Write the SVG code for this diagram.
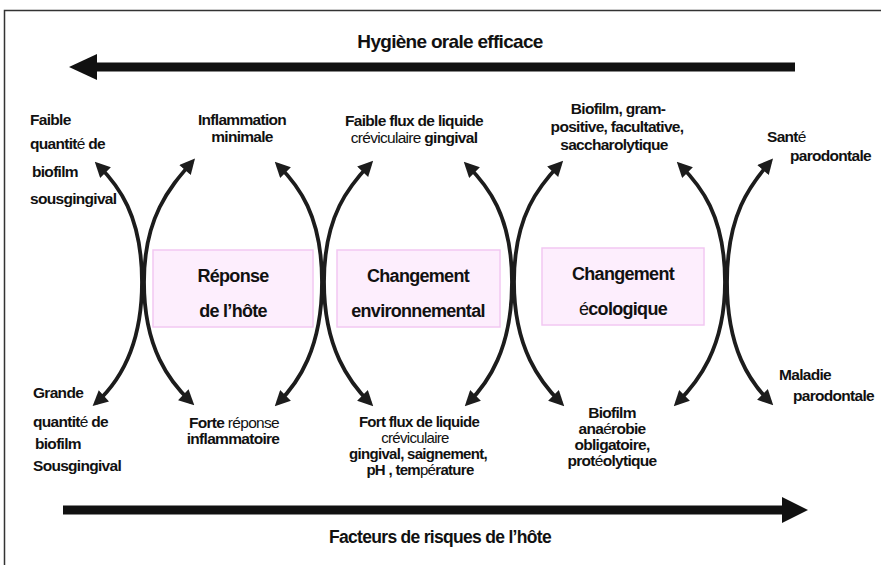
<svg xmlns="http://www.w3.org/2000/svg" width="881" height="565" viewBox="0 0 881 565">
<style>
text{font-family:"Liberation Sans",Arial,sans-serif;font-weight:bold;fill:#111;letter-spacing:-0.7px}
.t{font-size:19px}
.t2{font-size:17.5px}
.l{font-size:15.5px}
.s{font-size:15px}
.b{font-size:18px}
.n{font-weight:normal}
.box{fill:#fdeefd;stroke:#f2c8f2;stroke-width:1.5}
.cv{fill:none;stroke:#1c1c1c;stroke-width:3.8;marker-start:url(#ah);marker-end:url(#ah)}
</style>
<defs>
<marker id="ah" viewBox="0 0 10 10" refX="7" refY="5" markerWidth="4.2" markerHeight="4" markerUnits="strokeWidth" orient="auto-start-reverse">
<path d="M0,0 L10,5 L0,10 z" fill="#1c1c1c"/>
</marker>
</defs>
<rect width="881" height="565" fill="#fff"/>
<path d="M4.5,565 V10.5 H881" fill="none" stroke="#333" stroke-width="1.5"/>

<g id="hygiene">
<line x1="92" y1="67" x2="795" y2="67" stroke="#111" stroke-width="9"/>
<polygon points="69,67 97,54 97,80" fill="#111"/>
<text class="t" x="450" y="48" text-anchor="middle">Hygiène orale efficace</text>
</g>

<g id="risques">
<line x1="63" y1="510" x2="785" y2="510" stroke="#111" stroke-width="9"/>
<polygon points="808,510 782,497 782,523" fill="#111"/>
<text class="t2" x="440" y="543" text-anchor="middle">Facteurs de risques de l’hôte</text>
</g>

<g id="connectors">
<path class="cv" d="M98,165 C118,185 142,215 142,282 C142,349 118,383 96,403"/>
<path class="cv" d="M192,162 C172,185 144,215 144,282 C144,349 170,382 191,402"/>
<path class="cv" d="M278,165 C298,185 322,215 322,282 C322,349 298,383 278,403"/>
<path class="cv" d="M370,164 C350,185 324,215 324,282 C324,349 350,383 370,403"/>
<path class="cv" d="M467,165 C487,185 512,215 512,282 C512,349 488,383 468,403"/>
<path class="cv" d="M560,164 C540,185 514,215 514,282 C514,349 541,383 561,403"/>
<path class="cv" d="M680,165 C700,185 725,215 725,282 C725,349 697,383 677,403"/>
<path class="cv" d="M770,162 C750,185 727,215 727,282 C727,349 750,382 770,402"/>
</g>

<g id="reponse-hote">
<rect class="box" x="153" y="250" width="160" height="77"/>
<text class="b" x="233" y="282" text-anchor="middle">Réponse</text>
<text class="b" x="233" y="317" text-anchor="middle">de l’hôte</text>
</g>
<g id="changement-env">
<rect class="box" x="337" y="250" width="163" height="77"/>
<text class="b" x="418" y="282" text-anchor="middle">Changement</text>
<text class="b" x="418" y="317" text-anchor="middle">environnemental</text>
</g>
<g id="changement-eco">
<rect class="box" x="542" y="248" width="162" height="77"/>
<text class="b" x="623" y="280" text-anchor="middle">Changement</text>
<text class="b" x="623" y="315" text-anchor="middle"><tspan class="n">é</tspan>cologique</text>
</g>

<g id="faible-quantite">
<text class="l" x="30" y="125">Faible</text>
<text class="l" x="30" y="149">quantit<tspan class="n">é</tspan> de</text>
<text class="l" x="32" y="177">biofilm</text>
<text class="l" x="30" y="204">sousgingival</text>
</g>
<g id="inflammation-minimale">
<text class="l" x="242" y="125" text-anchor="middle">Inflammation</text>
<text class="l" x="242" y="142" text-anchor="middle">minimale</text>
</g>
<g id="faible-flux">
<text class="l" x="414" y="126" text-anchor="middle">Faible flux de liquide</text>
<text class="l" x="414" y="143" text-anchor="middle"><tspan class="n">créviculaire</tspan> gingival</text>
</g>
<g id="biofilm-gram">
<text class="l" x="618" y="114" text-anchor="middle">Biofilm, gram-</text>
<text class="l" x="617" y="132" text-anchor="middle">positive, facultative,</text>
<text class="l" x="614" y="150" text-anchor="middle">saccharolytique</text>
</g>
<g id="sante">
<text class="l" x="767" y="142">Sant<tspan class="n">é</tspan></text>
<text class="l" x="790" y="161">parodontale</text>
</g>

<g id="grande-quantite">
<text class="l" x="33" y="398">Grande</text>
<text class="l" x="33" y="427">quantit<tspan class="n">é</tspan> de</text>
<text class="l" x="35" y="449">biofilm</text>
<text class="l" x="33" y="471">Sousgingival</text>
</g>
<g id="forte-reponse">
<text class="l" x="234" y="428" text-anchor="middle">Forte <tspan class="n">réponse</tspan></text>
<text class="l" x="233" y="444" text-anchor="middle">inflammatoire</text>
</g>
<g id="fort-flux">
<text class="s" x="419" y="427" text-anchor="middle">Fort flux de liquide</text>
<text class="s n" x="415" y="443" text-anchor="middle">créviculaire</text>
<text class="s" x="418" y="459" text-anchor="middle">gingival, saignement,</text>
<text class="s" x="420" y="475" text-anchor="middle">pH , tem<tspan class="n">pé</tspan>rature</text>
</g>
<g id="biofilm-anaerobie">
<text class="l" x="612" y="418" text-anchor="middle">Biofilm</text>
<text class="l" x="612" y="434" text-anchor="middle">ana<tspan class="n">é</tspan>robie</text>
<text class="l" x="612" y="450" text-anchor="middle">obligatoire,</text>
<text class="l" x="612" y="466" text-anchor="middle">prot<tspan class="n">é</tspan>olytique</text>
</g>
<g id="maladie">
<text class="l" x="779" y="380">Maladie</text>
<text class="l" x="793" y="401">parodontale</text>
</g>
</svg>
